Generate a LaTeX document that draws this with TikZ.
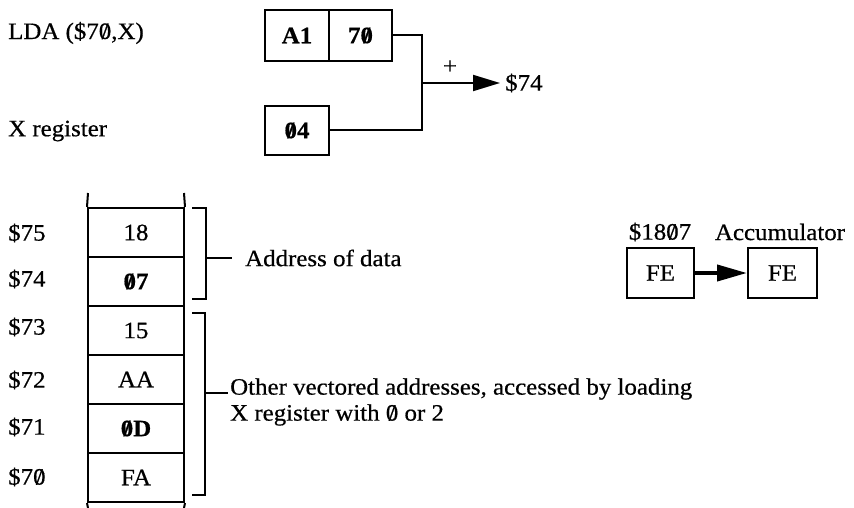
\documentclass[tikz,border=0pt]{standalone}
\usepackage{fontspec}
\setmainfont{Liberation Serif}[FakeStretch=1.06,FakeBold=0.6]
\usetikzlibrary{arrows.meta}
\newcommand{\zs}{\ooalign{0\cr\hidewidth/\hidewidth\cr}}
\begin{document}
\begin{tikzpicture}[x=1pt,y=-1pt,
  every node/.style={font=\fontsize{23.5}{26}\selectfont, inner sep=0pt},
  lw/.style={line width=2pt},
  box/.style={draw, line width=2pt, inner sep=0pt},
  cell/.style={draw, line width=2pt, minimum width=96pt, minimum height=49pt},
  hexb/.style={font=\fontsize{23.5}{26}\selectfont\bfseries},
  lbl/.style={anchor=west},
]
\useasboundingbox (0,0) rectangle (854,508);

% --- instruction and X register ---
\node[lbl] (lda) at (8,33) {LDA (\$7\zs,X)};
\node[lbl] (xr) at (8,131) {X register};
\node[box, minimum width=64pt, minimum height=51pt, hexb] (a1) at (297,35.5) {A1};
\node[box, minimum width=63pt, minimum height=51pt, hexb] (b70) at (360.5,35.5) {7\zs};
\node[box, minimum width=64pt, minimum height=49pt, hexb] (x04) at (297,130.5) {\zs4};
\coordinate (jt) at (422,35.5);
\coordinate (jb) at (422,130.5);
\coordinate (jm) at (422,83);
\node[lbl] (t74) at (505,83) {\$74};
\node (plus) at (450,67) {+};
\draw[lw] (b70.east) -- (jt) -- (jb) -- (x04.east);
\draw[lw, -{Triangle[length=27pt,width=16pt]}, shorten >=5pt] (jm) -- (t74.west);

% --- memory column ---
\node[cell] (m75) at (136,232.5) {18};
\node[cell] (m74) at (136,281.5) {\textbf{\zs7}};
\node[cell] (m73) at (136,330.5) {15};
\node[cell] (m72) at (136,379.5) {AA};
\node[cell] (m71) at (136,428.5) {\textbf{\zs D}};
\node[cell] (m70) at (136,477.5) {FA};
\draw[lw] (88,193) -- (m75.north west);
\draw[lw] (184,193) -- (m75.north east);
\draw[lw] (m70.south west) -- (88,508);
\draw[lw] (m70.south east) -- (184,508);

\node[lbl] (l75) at (8,233) {\$75};
\node[lbl] (l74) at (8,279) {\$74};
\node[lbl] (l73) at (8,327) {\$73};
\node[lbl] (l72) at (8,380) {\$72};
\node[lbl] (l71) at (8,427) {\$71};
\node[lbl] (l70) at (8,477) {\$7\zs};

% --- brackets ---
\draw[lw] (192,208) -- (206,208) -- (206,299) -- (192,299);
\node[lbl] (addr) at (245,258) {Address of data};
\coordinate (b1) at (206,258);
\draw[lw] (b1) -- ([xshift=-13pt]addr.west);

\draw[lw] (192,313) -- (205,313) -- (205,495) -- (192,495);
\node[lbl, align=left] (oth) at (230,402) {Other vectored addresses, accessed by loading\\X register with \zs{} or 2};
\coordinate (b2) at (205,393);
\draw[lw] (b2) -- (228,393);

% --- accumulator transfer ---
\node[box, minimum width=67pt, minimum height=50pt] (fe1) at (660.5,273) {FE};
\node[box, minimum width=69pt, minimum height=50pt] (fe2) at (782.5,273) {FE};
\node (s1807) at (660,232) {\$18\zs7};
\node (acc) at (780,232) {Accumulator};
\draw[line width=4pt, -{Triangle[length=30pt,width=16pt]}] (fe1.east) -- (fe2.west);
\end{tikzpicture}
\end{document}
